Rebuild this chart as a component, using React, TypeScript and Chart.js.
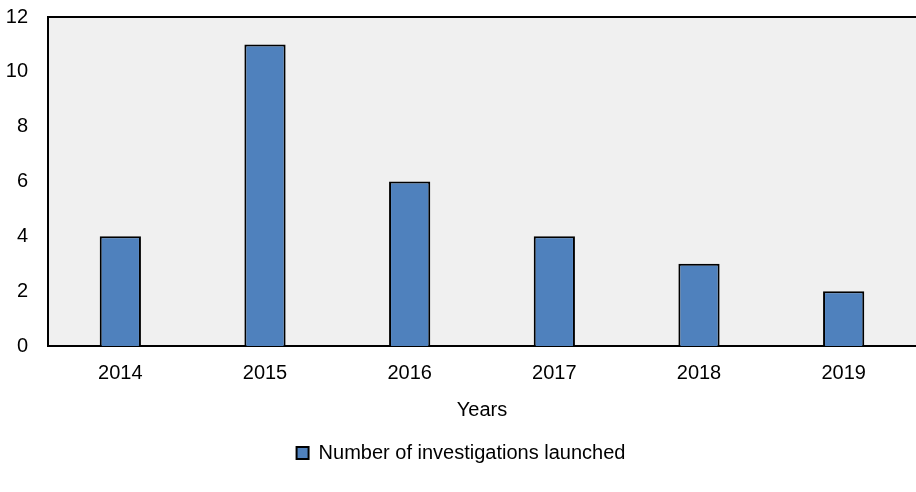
import React, { useEffect, useRef } from "react";
import { Chart, registerables } from "chart.js";

Chart.register(...registerables);

const years = ["2014", "2015", "2016", "2017", "2018", "2019"];
const investigations = [4, 11, 6, 4, 3, 2];
const seriesLabel = "Number of investigations launched";
const xTitle = "Years";

const FONT = "'Liberation Sans', Arial, sans-serif";
const FS = 20;

const plotDecor = {
  id: "plotDecor",
  beforeDraw(chart: any) {
    const { ctx, chartArea } = chart;
    ctx.save();
    ctx.fillStyle = "#F0F0F0";
    ctx.fillRect(chartArea.left, chartArea.top, chartArea.right - chartArea.left, chartArea.bottom - chartArea.top);
    ctx.restore();
  },
  afterDraw(chart: any) {
    const { ctx, chartArea } = chart;
    ctx.save();
    ctx.strokeStyle = "#000";
    ctx.lineWidth = 2;
    ctx.beginPath();
    ctx.moveTo(chartArea.left - 1, chartArea.top);
    ctx.lineTo(chartArea.right, chartArea.top);
    ctx.stroke();
    ctx.restore();
  },
};

export default function App() {
  const ref = useRef<HTMLCanvasElement>(null);
  useEffect(() => {
    document.body.style.margin = "0";
    const chart = new Chart(ref.current as HTMLCanvasElement, {
      type: "bar",
      data: {
        labels: years,
        datasets: [
          {
            label: seriesLabel,
            data: investigations,
            backgroundColor: "#4F81BD",
            borderColor: "#000000",
            borderWidth: 2,
            categoryPercentage: 1,
            barPercentage: 0.285,
          },
        ],
      },
      options: {
        responsive: false,
        animation: false,
        layout: { padding: { top: 17, right: 0, left: 6, bottom: 19 } },
        plugins: {
          tooltip: { enabled: false },
          legend: {
            position: "bottom",
            labels: {
              font: { family: FONT, size: FS },
              color: "#000",
              boxWidth: 12,
              boxHeight: 12,
              padding: 10,
            },
          },
        },
        scales: {
          x: {
            grid: { display: false, drawTicks: false },
            border: { display: true, color: "#000", width: 2 },
            ticks: { font: { family: FONT, size: FS }, color: "#000", padding: 15 },
            title: {
              display: true,
              text: xTitle,
              font: { family: FONT, size: FS },
              color: "#000",
              padding: { top: 13, bottom: 11 },
            },
            afterFit(scale: any) {
              scale.height = 87;
              scale.paddingLeft = 0;
              scale.paddingRight = 0;
            },
          },
          y: {
            min: 0,
            max: 12,
            grid: { display: false, drawTicks: false },
            border: { display: true, color: "#000", width: 2 },
            ticks: { stepSize: 2, font: { family: FONT, size: FS }, color: "#000", padding: 20 },
            afterFit(scale: any) {
              scale.width = 42;
              scale.paddingTop = 0;
              scale.paddingBottom = 0;
            },
          },
        },
      },
      plugins: [plotDecor],
    });
    return () => chart.destroy();
  }, []);
  return (
    <div style={{ width: 916, height: 492 }}>
      <canvas ref={ref} width={916} height={492} />
    </div>
  );
}
